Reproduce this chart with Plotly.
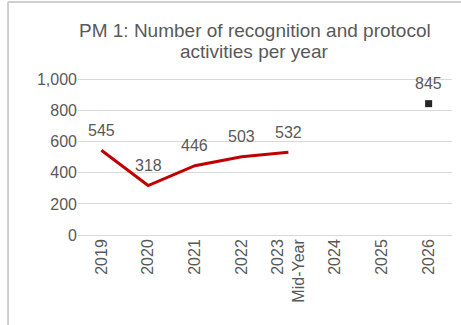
import plotly.graph_objects as go

years = ["2019", "2020", "2021", "2022", "2023<br>Mid-Year", "2024", "2025", "2026"]
actual_years = ["2019", "2020", "2021", "2022", "2023<br>Mid-Year"]
actual_values = [545, 318, 446, 503, 532]
target_years = ["2026"]
target_values = [845]
y_ticks = [0, 200, 400, 600, 800, 1000]
y_ticktext = ["0", "200", "400", "600", "800", "1,000"]
title_lines = ["PM 1: Number of recognition and protocol", "activities per year"]

grey = "#595959"

fig = go.Figure()
fig.add_trace(go.Scatter(x=actual_years, y=actual_values, mode="lines",
                         line=dict(color="#C00000", width=3), showlegend=False))
fig.add_trace(go.Scatter(x=target_years, y=target_values, mode="markers",
                         marker=dict(symbol="square", size=7, color="#262626"),
                         showlegend=False))

# data labels above each point (x given as category index)
for xs, ys in [(actual_years, actual_values), (target_years, target_values)]:
    for x, y in zip(xs, ys):
        fig.add_annotation(x=years.index(x), y=y, text=str(y), showarrow=False,
                           yshift=20, font=dict(size=16, color=grey))

# two-line title, placed line by line to get the tight line spacing
for i, line in enumerate(title_lines):
    fig.add_annotation(xref="paper", yref="paper", x=0.473, y=1.3 - i * 0.132,
                       text=line, showarrow=False, xanchor="center", yanchor="middle",
                       font=dict(size=19, color=grey))

# outer frame (top and left edges visible)
fig.add_shape(type="line", xref="paper", yref="paper", x0=-0.187, x1=1.1,
              y0=1.484, y1=1.484, line=dict(color="#d0d0d0", width=2))
fig.add_shape(type="line", xref="paper", yref="paper", x0=-0.187, x1=-0.187,
              y0=1.484, y1=-0.6, line=dict(color="#d0d0d0", width=2))

fig.update_layout(
    width=461, height=325,
    margin=dict(l=78, r=9, t=78, b=90),
    paper_bgcolor="white", plot_bgcolor="white",
    font=dict(family="Liberation Sans, Arial, sans-serif", color=grey, size=16),
    xaxis=dict(type="category", categoryorder="array", categoryarray=years,
               tickvals=years, ticktext=years, tickangle=-90, range=[-0.5, 7.5],
               showgrid=False, showline=False, ticks="", tickfont=dict(size=16, color=grey)),
    yaxis=dict(range=[0, 1010], tickvals=y_ticks, ticktext=y_ticktext,
               showgrid=True, gridcolor="#d9d9d9", gridwidth=1,
               zeroline=True, zerolinecolor="#d9d9d9", zerolinewidth=1,
               showline=False, ticks="", ticklen=0, tickfont=dict(size=16, color=grey)),
)

fig.write_html("out.html", config={"displayModeBar": False},
               post_script="document.body.style.margin='0';")
